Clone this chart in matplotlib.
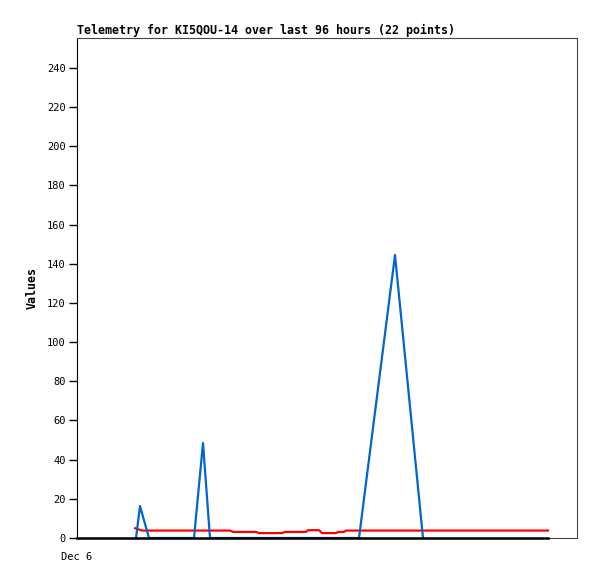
import matplotlib
matplotlib.use("Agg")
import matplotlib.pyplot as plt

# hours since Dec 6 00:00
blue_x = [11.8, 12.6, 14.4, 23.4, 25.2, 26.6, 56.4, 63.6, 69.2]
blue_y = [0, 16.3, 0, 0, 48.5, 0, 0, 144.5, 0]

red_x = [11.6, 13.0, 30.6, 31.2, 35.8, 36.4, 41.0, 41.6, 45.8, 46.2, 48.4, 49.0,
         51.8, 52.2, 53.4, 53.8, 94.2]
red_y = [5.0, 3.8, 3.8, 3.1, 3.1, 2.5, 2.5, 3.1, 3.1, 4.0, 4.0, 2.5,
         2.5, 3.1, 3.1, 3.8, 3.8]

black_x = [0, 94.2]
black_y = [0, 0]

yticks = [0, 20, 40, 60, 80, 100, 120, 140, 160, 180, 200, 220, 240]
xtick_pos = [0]
xtick_labels = ["Dec 6"]

plt.rcParams['font.family'] = ['DejaVu Sans Mono']

fig = plt.figure(figsize=(5.97, 5.79), dpi=100)
ax = fig.add_axes([77 / 597, 41 / 579, 500 / 597, 500 / 579])

ax.plot(red_x, red_y, color="#ff0000", lw=1.6, zorder=2)
ax.plot(blue_x, blue_y, color="#0066cc", lw=1.6, zorder=3)
ax.plot(black_x, black_y, color="black", lw=1.8, zorder=4, clip_on=False)

ax.set_xlim(0, 100)
ax.set_ylim(0, 255.3)
ax.set_yticks(yticks)
ax.set_xticks(xtick_pos)
ax.set_xticklabels(xtick_labels)
ax.tick_params(axis="y", length=6, width=1, labelsize=7.5, pad=2)
ax.tick_params(axis="x", length=0, labelsize=7.5, pad=10)

for s in ["top", "right", "bottom"]:
    ax.spines[s].set_color("#444444")
ax.spines["left"].set_color("black")

ax.set_title("Telemetry for KI5QOU-14 over last 96 hours (22 points)",
             loc="left", fontsize=8.4, fontweight="bold", pad=3)
ax.set_ylabel("Values", fontsize=8.4, fontweight="bold", labelpad=6)

fig.savefig("out.png", dpi=100)
